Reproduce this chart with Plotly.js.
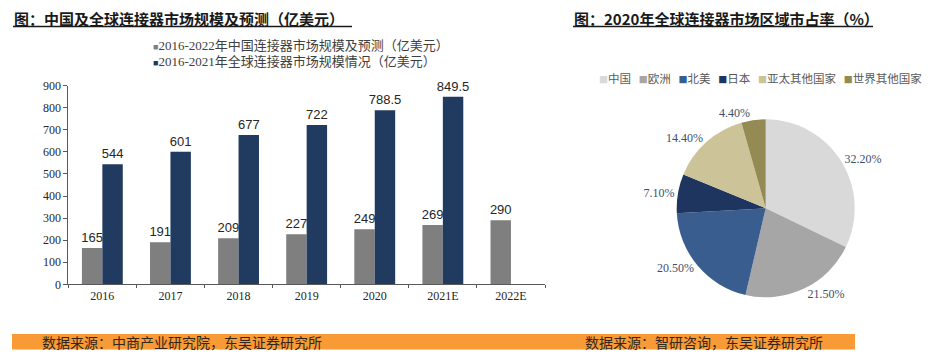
<!DOCTYPE html>
<html><head><meta charset="utf-8">
<script src="https://cdn.plot.ly/plotly-3.0.1.min.js"></script>
<style>html,body{margin:0;padding:0;background:#fff;}#chart{width:932px;height:363px;}</style>
</head><body><div id="chart"></div>
<script>
// ---- data ----
const years = ['2016','2017','2018','2019','2020','2021E','2022E'];
const chinaMarket = [165,191,209,227,249,269,290];
const globalMarket = [544,601,677,722,788.5,849.5,null];
const seriesNames = ['2016-2022年中国连接器市场规模及预测（亿美元）','2016-2021年全球连接器市场规模情况（亿美元）'];
const yTickVals = [0,100,200,300,400,500,600,700,800,900];
const regions = ['中国','欧洲','北美','日本','亚太其他国家','世界其他国家'];
const regionShares = [32.2,21.5,20.5,7.1,14.4,4.4];
const leftTitle = '图：中国及全球连接器市场规模及预测（亿美元）';
const rightTitle = '图：2020年全球连接器市场区域市占率（%）';
const leftSource = '数据来源：中商产业研究院，东吴证券研究所';
const rightSource = '数据来源：智研咨询，东吴证券研究所';

// ---- styles ----
const W = 932, H = 363;
const px = x => x / W, py = y => 1 - y / H;
const barColors = ['#7f7f7f', '#213b60'];
const pieColors = ['#d9d9d9','#a6a6a6','#395d8f','#1e365f','#cdc399','#938a54'];
const serif = 'Liberation Serif, "Noto Sans CJK SC", serif';
const cjk = '"Noto Sans CJK SC", sans-serif';

const barText = {family: 'Liberation Sans, Arial, sans-serif', size: 13, color: '#262626'};

const traces = [
  {type:'bar', name: seriesNames[0], x: years, y: chinaMarket, marker:{color: barColors[0]},
   texttemplate:'%{y}', textposition:'outside', textfont: barText, constraintext:'none', cliponaxis:false,
   hoverinfo:'skip', xaxis:'x', yaxis:'y', showlegend:false},
  {type:'bar', name: seriesNames[1], x: years, y: globalMarket, marker:{color: barColors[1]},
   texttemplate:'%{y}', textposition:'outside', textfont: barText, constraintext:'none', cliponaxis:false,
   hoverinfo:'skip', xaxis:'x', yaxis:'y', showlegend:false},
  {type:'pie', labels: regions, values: regionShares, sort:false, direction:'clockwise', rotation:0,
   marker:{colors: pieColors, line:{width:0}}, texttemplate:'%{value:.2f}%', textposition:'outside',
   textfont:{family: serif, size: 12, color:'#3e4f6c'}, showlegend:false, automargin:false,
   domain:{x:[px(676.7), px(854.7)], y:[py(297.3), py(119.3)]}, hoverinfo:'skip'}
];

const pieLegend = regions.map((r,i) =>
  `<span style="color:${pieColors[i]};font-size:9px">■</span>${r}`).join('\u00A0\u00A0\u00A0');
const barLegend = seriesNames.map((n,i) => ({
  text: `<span style="color:${barColors[i]};font-size:9px">■</span>${n}`,
  xref:'paper', yref:'paper', x:px(151), y:py(46 + 16*i), xanchor:'left', yanchor:'middle', showarrow:false,
  font:{family: serif, size: 13, color:'#404040'}
}));

const layout = {
  width: W, height: H, margin:{l:0,r:0,t:0,b:0}, paper_bgcolor:'#fff', plot_bgcolor:'#fff',
  barmode:'group', bargap:0.4, bargroupgap:0,
  showlegend:false,
  xaxis:{domain:[px(68.3), px(545)], type:'category', showline:true, linecolor:'#595959', linewidth:1,
    ticks:'outside', tickson:'boundaries', ticklen:3, tickcolor:'#595959', showgrid:false, zeroline:false,
    tickfont:{family: serif, size: 12, color:'#262626'}, fixedrange:true},
  yaxis:{domain:[py(284.3), py(85.7)], range:[0,900], tickvals: yTickVals, showline:true, linecolor:'#595959',
    linewidth:1, ticks:'outside', ticklen:4, tickcolor:'#595959', showgrid:false, zeroline:false,
    tickfont:{family: serif, size: 12, color:'#262626'}, fixedrange:true},
  shapes:[
    {type:'line', xref:'paper', yref:'paper', x0:px(13), x1:px(352), y0:py(26.5), y1:py(26.5), line:{color:'#1a1a1a', width:1.5}},
    {type:'line', xref:'paper', yref:'paper', x0:px(573), x1:px(873), y0:py(26.5), y1:py(26.5), line:{color:'#1a1a1a', width:1.5}},
    {type:'rect', xref:'paper', yref:'paper', x0:px(12), x1:px(855), y0:py(349.5), y1:py(334), fillcolor:'#f89a36', line:{width:0}, layer:'below'}
  ],
  annotations:[
    {text:`<b>${leftTitle}</b>`, xref:'paper', yref:'paper', x:px(12), y:py(18), xanchor:'left', yanchor:'middle', showarrow:false,
      font:{family: cjk, size: 15, color:'#1a1a1a'}},
    {text:`<b>${rightTitle}</b>`, xref:'paper', yref:'paper', x:px(572), y:py(18), xanchor:'left', yanchor:'middle', showarrow:false,
      font:{family: cjk, size: 15, color:'#1a1a1a'}},
    ...barLegend,
    {text: pieLegend, xref:'paper', yref:'paper', x:px(597), y:py(78), xanchor:'left', yanchor:'middle', showarrow:false,
      font:{family: cjk, size: 11.5, color:'#595959'}},
    {text: leftSource, xref:'paper', yref:'paper', x:px(40), y:py(342), xanchor:'left', yanchor:'middle', showarrow:false,
      font:{family: cjk, size: 14, color:'#33261a'}},
    {text: rightSource, xref:'paper', yref:'paper', x:px(583), y:py(342), xanchor:'left', yanchor:'middle', showarrow:false,
      font:{family: cjk, size: 14, color:'#33261a'}}
  ]
};

Plotly.newPlot('chart', traces, layout, {staticPlot:true, displayModeBar:false});
</script></body></html>
